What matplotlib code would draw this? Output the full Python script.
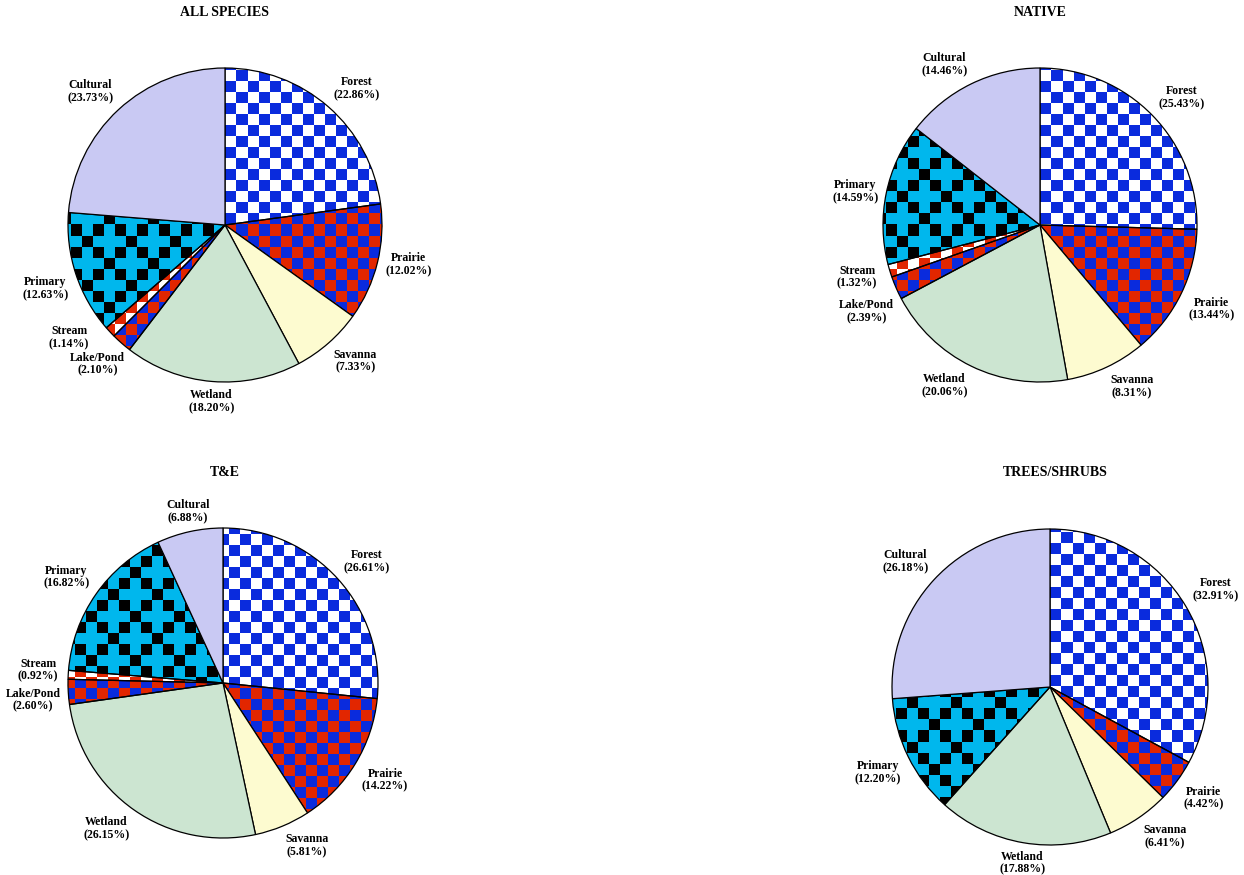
import numpy as np
import matplotlib
matplotlib.use("Agg")
import matplotlib.pyplot as plt

# ---- data -------------------------------------------------------------
categories = ["Forest", "Prairie", "Savanna", "Wetland",
              "Lake/Pond", "Stream", "Primary", "Cultural"]

all_species = [22.86, 12.02, 7.33, 18.20, 2.10, 1.14, 12.63, 23.73]
native = [25.43, 13.44, 8.31, 20.06, 2.39, 1.32, 14.59, 14.46]
t_and_e = [26.61, 14.22, 5.81, 26.15, 2.60, 0.92, 16.82, 6.88]
trees_shrubs = [32.91, 4.42, 6.41, 17.88, 0.0, 0.0, 12.20, 26.18]

titles = ["ALL SPECIES", "NATIVE", "T&E", "TREES/SHRUBS"]
panels = [all_species, native, t_and_e, trees_shrubs]

# ---- styling ----------------------------------------------------------
W, H = 1244, 875
BLUE = (0.04, 0.17, 0.87)
RED = (0.89, 0.15, 0.0)
CYAN = (0.0, 0.72, 0.93)
WHITE = (1.0, 1.0, 1.0)
BLACK = (0.0, 0.0, 0.0)

solid = {"Wetland": "#cce5d1", "Savanna": "#fdfbd0", "Cultural": "#c9c9f3"}


def checker(n, c0, c1):
    i, j = np.indices((n, n))
    mask = (i + j) % 2 == 0
    img = np.empty((n, n, 3))
    img[mask] = c0
    img[~mask] = c1
    return img


def crosses(n, bg, fg):
    # cyan crosses separated by black squares (4x4 repeat)
    i, j = np.indices((n, n))
    dark = ((i + j) % 2 == 0) & ~((i % 2 == 1) & ((i - j) % 4 == 0))
    img = np.empty((n, n, 3))
    img[dark] = fg
    img[~dark] = bg
    return img


patterns = {
    "Forest": lambda n: checker(n, WHITE, BLUE),
    "Prairie": lambda n: checker(n, RED, BLUE),
    "Lake/Pond": lambda n: checker(n, RED, BLUE),
    "Stream": lambda n: checker(n, RED, WHITE),
    "Primary": lambda n: crosses(n, CYAN, BLACK),
}

# pie centre (px from left, px from top) and radius in px
layout = [(225, 225, 157), (1040, 225, 157), (223, 683, 155), (1050, 687, 158)]
title_pos = [(225, 13), (1040, 13), (225, 472), (1055, 472)]

# small shifts (px, right/up) for crowded labels
nudges = {(0, "Stream"): (-15, 12), (0, "Lake/Pond"): (9, -3),
          (1, "Stream"): (-5, 8), (1, "Lake/Pond"): (5, -8),
          (2, "Stream"): (-2, 4), (2, "Lake/Pond"): (0, -8)}

CELL = 11  # pattern cell size in px
PAD = 1.3

plt.rcParams["font.family"] = ["Liberation Serif", "DejaVu Serif"]
fig = plt.figure(figsize=(W / 100, H / 100), dpi=100)

for k, (vals, title) in enumerate(zip(panels, titles)):
    cx, cy, r = layout[k]
    ax = fig.add_axes([(cx - PAD * r) / W, (H - cy - PAD * r) / H,
                       2 * PAD * r / W, 2 * PAD * r / H])
    cats = [c for c, v in zip(categories, vals) if v > 0]
    vs = [v for v in vals if v > 0]
    facecols = [solid.get(c, "none") for c in cats]
    wedges, _ = ax.pie(vs, startangle=90, counterclock=False, colors=facecols,
                       wedgeprops=dict(edgecolor="black", linewidth=0.9),
                       normalize=True)
    n = int(np.ceil(2 * PAD * r / CELL)) + 2
    half = n * CELL / (2 * r)
    for w, c in zip(wedges, cats):
        w.set_zorder(3)
        if c in patterns:
            im = ax.imshow(patterns[c](n), extent=(-half, half, -half, half),
                           interpolation="nearest", zorder=2)
            im.set_clip_path(w)
    ax.set_xlim(-PAD, PAD)
    ax.set_ylim(-PAD, PAD)
    ax.set_aspect("equal")
    ax.axis("off")

    # labels just outside the rim
    for w, c, v in zip(wedges, cats, vs):
        mid = np.deg2rad((w.theta1 + w.theta2) / 2)
        ca, sa = np.cos(mid), np.sin(mid)
        ha = "left" if ca > 0.25 else ("right" if ca < -0.25 else "center")
        va = "bottom" if sa > 0.25 else ("top" if sa < -0.25 else "center")
        px = cx + 1.05 * r * ca
        py = cy - 1.05 * r * sa
        dx, dy = nudges.get((k, c), (0, 0))
        px += dx
        py -= dy
        fig.text(px / W, 1 - py / H, f"{c}\n({v:.2f}%)", ha=ha, va=va,
                 ma="center", fontsize=8.5, fontweight="bold", linespacing=1.08)

    tx, ty = title_pos[k]
    fig.text(tx / W, 1 - ty / H, title, ha="center", va="center",
             fontsize=10, fontweight="bold")

fig.savefig("out.png", dpi=100)
